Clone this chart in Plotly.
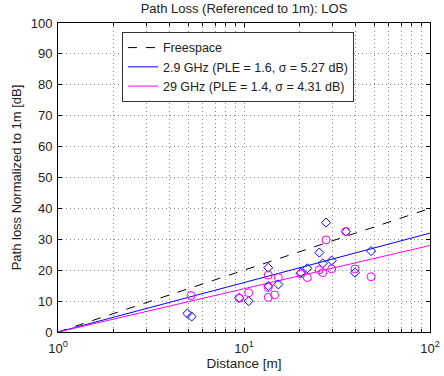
import plotly.graph_objects as go

# Model lines (distance endpoints and path loss in dB)
line_dist = [1, 100]
freespace_pl = [0, 40]
pl_29 = [0, 32]   # 2.9 GHz, PLE=1.6
pl_290 = [0, 28]  # 29 GHz, PLE=1.4

# Measured points
d_29 = [4.96, 5.23, 9.44, 10.6, 13.5, 13.5, 15.3, 20.2, 21.9, 25.4, 27.6, 26.5, 29.6, 35.3, 39.5, 48.2]
pl_29_meas = [6.0, 5.0, 11.1, 10.0, 20.8, 14.9, 15.4, 19.2, 20.6, 25.7, 35.4, 22.2, 23.1, 32.5, 19.2, 26.2]

d_290 = [5.19, 9.44, 10.6, 13.5, 13.5, 13.5, 14.6, 15.3, 20.2, 21.9, 25.4, 26.5, 27.6, 29.6, 35.3, 39.5, 48.2]
pl_290_meas = [11.8, 10.9, 12.7, 18.4, 14.4, 11.2, 12.0, 17.6, 18.8, 17.6, 20.1, 19.2, 29.8, 20.4, 32.5, 20.4, 17.9]

x_tickvals = [1, 10, 100]
x_ticktext = ["10<sup>0</sup>", "10<sup>1</sup>", "10<sup>2</sup>"]
x_minor = [2, 3, 4, 5, 6, 7, 8, 9, 20, 30, 40, 50, 60, 70, 80, 90]
y_tickvals = list(range(0, 101, 10))

fig = go.Figure()
fig.add_trace(go.Scatter(x=line_dist, y=freespace_pl, mode="lines", name="Freespace",
                         line=dict(color="black", dash="dash", width=1)))
fig.add_trace(go.Scatter(x=line_dist, y=pl_29, mode="lines", name="2.9 GHz (PLE = 1.6, σ = 5.27 dB)",
                         line=dict(color="#0000ff", width=1)))
fig.add_trace(go.Scatter(x=line_dist, y=pl_290, mode="lines", name="29 GHz (PLE = 1.4, σ = 4.31 dB)",
                         line=dict(color="#ff00ff", width=1)))
fig.add_trace(go.Scatter(x=d_29, y=pl_29_meas, mode="markers", showlegend=False,
                         marker=dict(symbol="diamond-open", color="#0000ff", size=7, line=dict(width=1))))
fig.add_trace(go.Scatter(x=d_290, y=pl_290_meas, mode="markers", showlegend=False,
                         marker=dict(symbol="circle-open", color="#ff00ff", size=8, line=dict(width=1))))

grid_col = "#8a8a8a"
grid_dash = "1px,3px"
axis_common = dict(showline=True, linecolor="black", linewidth=1, mirror="ticks",
                   ticks="inside", ticklen=4, tickcolor="black", zeroline=False,
                   automargin=False, tickfont=dict(size=13, color="#222"))

fig.update_xaxes(type="log", range=[0, 2], tickvals=x_tickvals, ticktext=x_ticktext,
                 showgrid=True, gridcolor=grid_col, griddash=grid_dash, gridwidth=1,
                 ticklabelstandoff=4,
                 minor=dict(ticks="inside", ticklen=3, tickcolor="black", showgrid=True,
                            gridcolor=grid_col, griddash=grid_dash, gridwidth=1,
                            tickvals=x_minor),
                 title=dict(text="Distance [m]", font=dict(size=13.5, color="#222"), standoff=2),
                 **axis_common)
fig.update_yaxes(range=[0, 100], tickvals=y_tickvals,
                 showgrid=True, gridcolor=grid_col, griddash=grid_dash, gridwidth=1,
                 ticklabelstandoff=2,
                 title=dict(text="Path loss Normalized to 1m [dB]", font=dict(size=13, color="#222"), standoff=6),
                 **axis_common)

fig.update_layout(
    width=444, height=376,
    margin=dict(l=58, r=14, t=23, b=44),
    paper_bgcolor="white", plot_bgcolor="white",
    font=dict(family="Liberation Sans, Arial, sans-serif", color="#222"),
    title=dict(text="Path Loss (Referenced to 1m): LOS", xref="paper", x=0.5, xanchor="center",
               y=0.99, yanchor="top", font=dict(size=13, color="#222")),
    legend=dict(x=0.172, y=0.971, xanchor="left", yanchor="top", bgcolor="white",
                bordercolor="#333", borderwidth=1, font=dict(size=12.5, color="#222"),
                tracegroupgap=0, itemwidth=30),
)

fig.write_html("out.html")
